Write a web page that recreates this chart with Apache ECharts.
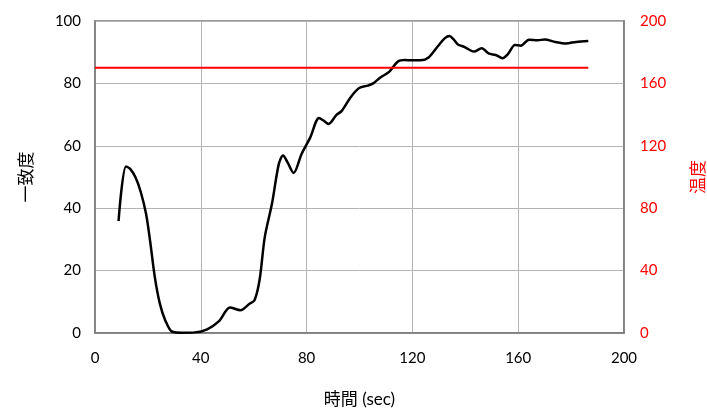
<!DOCTYPE html>
<html>
<head>
<meta charset="utf-8">
<script src="https://cdn.jsdelivr.net/npm/echarts@6/dist/echarts.min.js"></script>
<style>
  html, body { margin: 0; padding: 0; background: #fff; }
  #chart { width: 707px; height: 410px; }
</style>
</head>
<body>
<div id="chart"></div>
<script>
// time (sec) and 一致度
var timeSec = [8.9, 11.7, 13.3, 15.3, 17.3, 19.3, 20.8, 22.6, 24.5, 26.5, 29.2, 33, 37.8, 42.4, 47.0, 51.0,
  55.0, 58.3, 60.3, 62.2, 64.2, 66.9, 69.5, 71.1, 72.8, 75.1, 78.1, 81.4, 84.7, 86.4, 88.3, 91.3, 93.3,
  96.6, 99.9, 103.2, 105.2, 107.9, 111.2, 114.5, 117.1, 119.8, 123.1, 126.1, 129.7, 132.3, 134.0, 135.6,
  137.2, 139.6, 143.3, 146.2, 148.8, 151.5, 154.1, 156.1, 158.8, 161.0, 164.1, 167.4, 170.0, 174.0, 178.0,
  181.9, 186.5];
var agreement = [35.9, 53.4, 52.6, 49.9, 45.2, 38.2, 29.7, 18.0, 9.5, 4.2, 0.4, 0.1, 0.2, 1.2, 3.9, 8.2,
  7.3, 9.3, 10.5, 16.9, 30.8, 41.4, 54.2, 56.9, 54.7, 51.3, 57.4, 62.7, 68.9, 68.1, 67.0, 69.9, 71.2,
  75.5, 78.5, 79.3, 80.0, 81.9, 83.7, 87.0, 87.5, 87.4, 87.4, 88.3, 92.0, 94.5, 95.2, 94.1,
  92.5, 91.7, 90.2, 91.3, 89.6, 89.1, 88.1, 89.4, 92.3, 92.1, 94.0, 93.8, 94.1, 93.3, 92.8,
  93.3, 93.6];

// 温度 set line
var tempTime = [0, 186.5];
var tempValue = [170, 170];

var xTicks = [0, 40, 80, 120, 160, 200];

var fontFam = 'Lato, "Noto Sans CJK JP", sans-serif';

var myChart = echarts.init(document.getElementById('chart'));

var option = {
  animation: false,
  grid: {
    left: 95,
    right: 83,
    top: 21,
    bottom: 77,
    outerBoundsMode: 'none',
    containLabel: false,
    show: true,
    borderColor: '#7a7a7a',
    borderWidth: 1.5
  },
  xAxis: {
    type: 'value',
    min: xTicks[0],
    max: xTicks[xTicks.length - 1],
    interval: 40,
    name: '時間 (sec)',
    nameLocation: 'middle',
    nameGap: 58,
    nameTextStyle: { color: '#000', fontSize: 17, fontFamily: fontFam },
    axisLine: { lineStyle: { color: '#7a7a7a', width: 1.5 } },
    axisTick: { show: false },
    axisLabel: { color: '#000', fontSize: 15, margin: 18, fontFamily: fontFam },
    splitLine: { lineStyle: { color: '#b4b4b4', width: 1 } }
  },
  yAxis: [{
    type: 'value',
    min: 0,
    max: 100,
    interval: 20,
    name: '一致度',
    nameLocation: 'middle',
    nameGap: 60,
    nameRotate: 90,
    nameTextStyle: { color: '#000', fontSize: 17, fontFamily: fontFam },
    axisLine: { show: true, lineStyle: { color: '#7a7a7a', width: 1.5 } },
    axisTick: { show: false },
    axisLabel: { color: '#000', fontSize: 15, margin: 14, fontFamily: fontFam },
    splitLine: { lineStyle: { color: '#b4b4b4', width: 1 } }
  }, {
    type: 'value',
    min: 0,
    max: 200,
    interval: 40,
    position: 'right',
    name: '温度',
    nameLocation: 'middle',
    nameGap: 66,
    nameRotate: 90,
    nameTextStyle: { color: '#ff0000', fontSize: 17, fontFamily: fontFam },
    axisLine: { show: true, lineStyle: { color: '#7a7a7a', width: 1.5 } },
    axisTick: { show: false },
    axisLabel: { color: '#ff0000', fontSize: 15, margin: 16, fontFamily: fontFam },
    splitLine: { show: false }
  }],
  series: [{
    name: '一致度',
    type: 'line',
    yAxisIndex: 0,
    smooth: 0.3,
    symbol: 'none',
    lineStyle: { color: '#000', width: 2.5 },
    data: timeSec.map(function(t, i) {
      return [t, agreement[i]];
    })
  }, {
    name: '温度',
    type: 'line',
    yAxisIndex: 1,
    symbol: 'none',
    lineStyle: { color: '#ff0000', width: 2 },
    data: tempTime.map(function(t, i) {
      return [t, tempValue[i]];
    })
  }]
};

myChart.setOption(option);
</script>
</body>
</html>
